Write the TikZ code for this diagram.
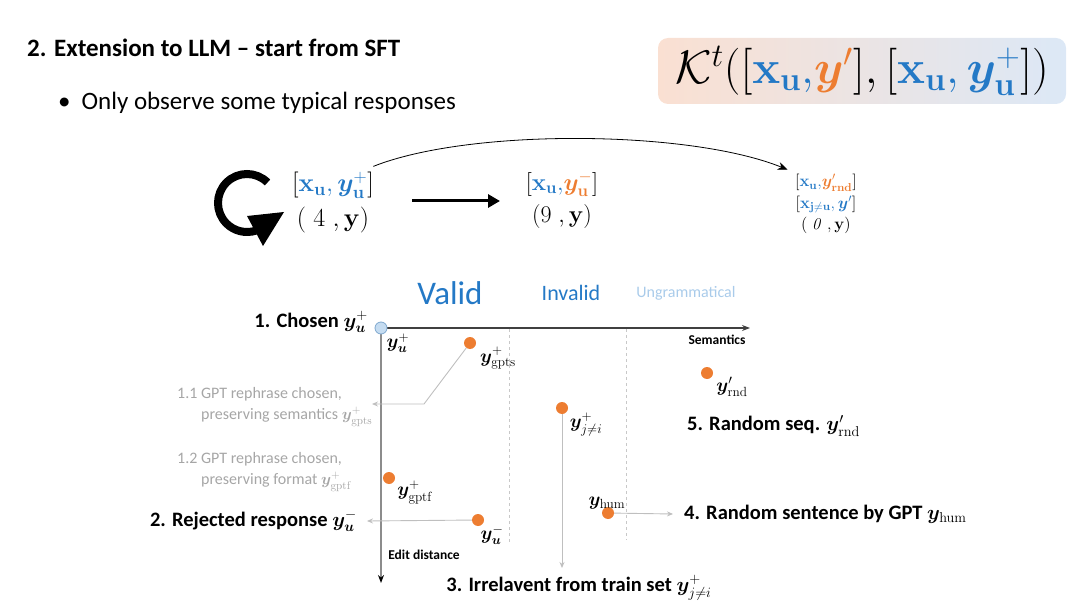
\RequirePackage{fix-cm}
\documentclass[tikz,border=0pt]{standalone}
\usepackage[no-math]{fontspec}
\setmainfont{Carlito}
\usepackage{amsmath,bm}
\usetikzlibrary{arrows.meta}
\definecolor{sftblue}{HTML}{2479C6}
\definecolor{sftorange}{HTML}{ED7D31}
\definecolor{paleblue}{HTML}{A9CBEA}
\definecolor{notegray}{HTML}{A6A6A6}
\definecolor{guidegray}{HTML}{BFBFBF}
\definecolor{sepgray}{HTML}{C8C8C8}
\definecolor{axisdark}{HTML}{404040}
\definecolor{axisgray}{HTML}{8C8C8C}
\definecolor{boxpeach}{HTML}{FAE0D2}
\definecolor{boxblue}{HTML}{DCE8F6}
\definecolor{originfill}{HTML}{C5DCF1}
\definecolor{originring}{HTML}{7FA8CF}
\newcommand{\fsz}[1]{\fontsize{#1}{#1}\selectfont}
\newcommand{\bx}{\mathbf{x}}
\begin{document}
\begin{tikzpicture}[x=1pt,y=-1pt,
    dot/.style={circle,fill=sftorange,inner sep=0pt,minimum size=12pt},
    cat/.style={font=\bfseries\fsz{20.5},inner sep=1pt},
    note/.style={font=\fontsize{16}{21}\selectfont,text=notegray,align=left,inner sep=1pt},
    ptlbl/.style={font=\fsz{19},inner sep=1pt},
    guide/.style={draw=guidegray,line width=0.9pt,-{Stealth[length=6pt,width=5pt]}},
    sepline/.style={draw=sepgray,dashed,line width=0.6pt}]
\useasboundingbox (0,0) rectangle (1080,607);

% heading
\node[anchor=west,font=\bfseries\fsz{25},inner sep=0pt] (title) at (27,48) {2. Extension to LLM -- start from SFT};
\node[anchor=west,font=\fsz{25},inner sep=0pt] (bullet) at (58,103) {\textbullet\hspace{11pt}Only observe some typical responses};
\node[left color=boxpeach,right color=boxblue,rounded corners=10pt,minimum width=408pt,minimum height=66pt,inner sep=0pt,font=\fsz{47}] (kernel) at (862,71)
  {$\mathcal{K}^{t}([\textcolor{sftblue}{\bx_{\mathbf{u}},}\textcolor{sftorange}{\bm{y}'}],[\textcolor{sftblue}{\bx_{\mathbf{u}},\bm{y}^{+}_{\mathbf{u}}}])$};

% top row
\coordinate (loopc) at (247,203);
\draw[line width=8pt] (loopc) ++(-45:29) arc[start angle=-45,end angle=-288,radius=29];
\fill (247,216) -- (284,212) -- (263,246) -- cycle;
\node[font=\fsz{26}] (pos) at (333,185) {$[\textcolor{sftblue}{\bx_{\mathbf{u}},\bm{y}^{+}_{\mathbf{u}}}]$};
\node[font=\fsz{26}] (posc) at (333,220) {$(\;4\;,\mathbf{y})$};
\node[font=\fsz{24}] (neg) at (562,184) {$[\textcolor{sftblue}{\bx_{\mathbf{u}},}\textcolor{sftorange}{\bm{y}^{-}_{\mathbf{u}}}]$};
\node[font=\fsz{24}] (negc) at (562,217) {$(9\;,\mathbf{y})$};
\node[align=center,font=\fontsize{16.5}{21.5}\selectfont] (rnd) at (826,204)
  {$[\textcolor{sftblue}{\bx_{\mathbf{u}},}\textcolor{sftorange}{\bm{y}'_{\mathbf{rnd}}}]$\\
   $[\textcolor{sftblue}{\bx_{\mathbf{j\neq u}},\bm{y}'}]$\\
   $(\;\mathit{0}\;,\mathbf{y})$};
\coordinate (fa) at (412,201);
\coordinate (fb) at (500,201);
\draw[line width=3pt,-{Triangle[length=12pt,width=13pt]}] (fa) -- (fb);
\draw[line width=0.8pt,-{Stealth[length=10pt,width=8pt]}] ([xshift=-4pt,yshift=2pt]pos.north east) .. controls (470,128) and (690,130) .. ([xshift=-4pt,yshift=1pt]rnd.north west);

% axes
\coordinate (origin) at (381,328);
\coordinate (semend) at (750,328);
\coordinate (editend) at (381,583);
\draw[sepline] (509,329) -- (509,542);
\draw[sepline] (626,329) -- (626,540);
\draw[axisdark,line width=1.2pt,-{Stealth[length=8pt,width=6pt]}] (origin) -- (semend);
\draw[axisgray,line width=1.6pt,-{Stealth[length=8pt,width=6pt,color=black]}] (origin) -- (editend);
\node[circle,draw=originring,fill=originfill,minimum size=12pt,inner sep=0pt,line width=0.8pt] (o) at (origin) {};
\node[font=\bfseries\fsz{13.5}] (semlbl) at (717,340) {Semantics};
\node[font=\bfseries\fsz{13.5}] (editlbl) at (424,555) {Edit distance};
\node[text=sftblue,font=\fsz{33}] (valid) at (450,293) {Valid};
\node[text=sftblue,font=\fsz{22}] (invalid) at (571,293) {Invalid};
\node[text=paleblue,font=\fsz{16}] (ungram) at (686,293) {Ungrammatical};

% points
\node[cat,anchor=east] (chosen) at (369,322) {1. Chosen $\bm{y}_{\bm{u}}^{+}$};
\node[ptlbl] (ulbl) at (398,343) {$\bm{y}_{\bm{u}}^{+}$};
\node[dot] (gpts) at (470,343) {};
\node[ptlbl] (gptslbl) at (498,358) {$\bm{y}^{+}_{\mathrm{gpts}}$};
\coordinate (gptsbend) at (424,404);
\coordinate (gptsend) at (372,404);
\draw[guide] (gpts) -- (gptsbend) -- (gptsend);
\node[note,anchor=west] (note1) at (176,407) {1.1 GPT rephrase chosen,\\\hspace*{24pt}preserving semantics $\bm{y}^{+}_{\mathrm{gpts}}$};
\node[note,anchor=west] (note2) at (176,472) {1.2 GPT rephrase chosen,\\\hspace*{24pt}preserving format $\bm{y}^{+}_{\mathrm{gptf}}$};
\node[dot] (gptf) at (389,478) {};
\node[ptlbl] (gptflbl) at (415,492) {$\bm{y}^{+}_{\mathrm{gptf}}$};
\node[cat,anchor=east] (rejected) at (358,521) {2. Rejected response $\bm{y}_{\bm{u}}^{-}$};
\node[dot] (yneg) at (478,520) {};
\node[ptlbl] (yneglbl) at (492,535) {$\bm{y}_{\bm{u}}^{-}$};
\draw[guide] (yneg) -- ([xshift=9pt]rejected.east);
\node[dot] (jni) at (562,408) {};
\node[ptlbl] (jnilbl) at (586,424) {$\bm{y}^{+}_{j\neq i}$};
\node[cat] (irrel) at (579,588) {3. Irrelavent from train set $\bm{y}^{+}_{j\neq i}$};
\coordinate (jniend) at (562,568);
\draw[guide] (jni) -- (jniend);
\node[dot] (hum) at (608,513) {};
\node[ptlbl] (humlbl) at (607,503) {$\bm{y}_{\mathrm{hum}}$};
\node[cat,anchor=west] (randsent) at (683,514) {4. Random sentence by GPT $\bm{y}_{\mathrm{hum}}$};
\draw[guide] (hum) -- ([xshift=-10pt]randsent.west);
\node[dot] (ydot) at (707,373) {};
\node[ptlbl] (ydotlbl) at (732,387) {$\bm{y}'_{\mathrm{rnd}}$};
\node[cat,anchor=west] (randseq) at (686,426) {5. Random seq. $\bm{y}'_{\mathrm{rnd}}$};
\end{tikzpicture}
\end{document}
